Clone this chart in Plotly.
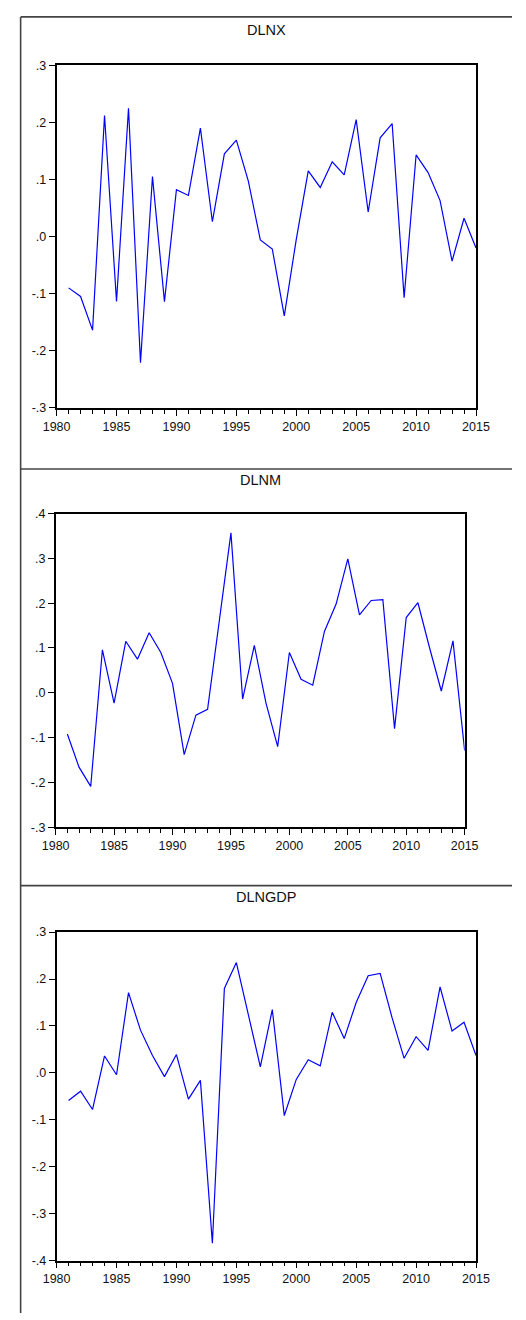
import plotly.graph_objects as go

years = list(range(1981, 2016))

dlnx = [-0.090, -0.105, -0.164, 0.212, -0.114, 0.225, -0.221, 0.105, -0.114, 0.082,
        0.072, 0.190, 0.026, 0.145, 0.169, 0.097, -0.006, -0.022, -0.139, -0.005,
        0.115, 0.086, 0.131, 0.108, 0.205, 0.043, 0.173, 0.198, -0.107, 0.143,
        0.112, 0.063, -0.043, 0.032, -0.020]

dlnm = [-0.092, -0.166, -0.209, 0.096, -0.023, 0.115, 0.075, 0.134, 0.090, 0.021,
        -0.138, -0.050, -0.037, 0.160, 0.357, -0.014, 0.106, -0.023, -0.120, 0.090,
        0.030, 0.017, 0.137, 0.198, 0.299, 0.174, 0.206, 0.208, -0.080, 0.168,
        0.201, 0.100, 0.004, 0.116, -0.129]

dlngdp = [-0.059, -0.039, -0.078, 0.036, -0.004, 0.171, 0.091, 0.037, -0.008, 0.039,
          -0.056, -0.016, -0.363, 0.180, 0.235, 0.121, 0.013, 0.135, -0.091, -0.014,
          0.028, 0.015, 0.129, 0.073, 0.150, 0.207, 0.212, 0.117, 0.031, 0.077,
          0.048, 0.183, 0.089, 0.108, 0.037]

titles = ["DLNX", "DLNM", "DLNGDP"]
series = [dlnx, dlnm, dlngdp]
yranges = [(-0.3, 0.3), (-0.3, 0.4), (-0.4, 0.3)]
ytickvals = [[-0.3, -0.2, -0.1, 0.0, 0.1, 0.2, 0.3],
             [-0.3, -0.2, -0.1, 0.0, 0.1, 0.2, 0.3, 0.4],
             [-0.4, -0.3, -0.2, -0.1, 0.0, 0.1, 0.2, 0.3]]
xtickvals = [1980, 1985, 1990, 1995, 2000, 2005, 2010, 2015]

W, H = 526, 1320
# plot area pixel boxes: (left, right, top, bottom)
boxes = [(45, 488, 59, 405), (44, 476, 512, 829), (45, 488, 935, 1267)]
title_y = [23, 478, 900]

def fmt(v):
    s = "%.1f" % v
    return s.replace("0.", ".")

fig = go.Figure()
font = dict(family="Liberation Sans, Arial, sans-serif", size=12.5, color="#111111")

for i in range(3):
    l, r, t, b = boxes[i]
    xa = "xaxis" if i == 0 else "xaxis%d" % (i + 1)
    ya = "yaxis" if i == 0 else "yaxis%d" % (i + 1)
    xref = "x" if i == 0 else "x%d" % (i + 1)
    yref = "y" if i == 0 else "y%d" % (i + 1)
    fig.add_trace(go.Scatter(x=years, y=series[i], mode="lines",
                             line=dict(color="#0000ff", width=1.2),
                             xaxis=xref, yaxis=yref, showlegend=False))
    fig.update_layout(**{
        xa: dict(domain=[l / W, r / W], range=[1980, 2015], anchor=yref,
                 tickvals=xtickvals, ticktext=[str(v) for v in xtickvals],
                 ticks="outside", ticklen=6, tickwidth=1, tickcolor="#000",
                 minor=dict(tickvals=list(range(1980, 2016)), ticks="outside",
                            ticklen=4, tickwidth=1, tickcolor="#000"),
                 showline=True, linecolor="#000", linewidth=1.6, mirror=True,
                 showgrid=False, zeroline=False, tickfont=font),
        ya: dict(domain=[1 - b / H, 1 - t / H], range=list(yranges[i]), anchor=xref,
                 tickvals=ytickvals[i], ticktext=[fmt(v) for v in ytickvals[i]],
                 ticks="outside", ticklen=6, tickwidth=1, tickcolor="#000",
                 showline=True, linecolor="#000", linewidth=1.6, mirror=True,
                 showgrid=False, zeroline=False, tickfont=font),
    })
    fig.add_annotation(text=titles[i], xref="paper", yref="paper",
                       x=(l + r) / 2 / W, y=1 - title_y[i] / H,
                       xanchor="center", yanchor="middle", showarrow=False,
                       font=dict(family="Liberation Sans, Arial, sans-serif", size=14.5, color="#111111"))

# outer frame lines
frame = dict(color="#444444", width=1.6)
fig.add_shape(type="line", xref="paper", yref="paper", x0=7 / W, x1=7 / W, y0=0, y1=1 - 10 / H, line=frame)
for yy in [10, 467, 888]:
    fig.add_shape(type="line", xref="paper", yref="paper", x0=7 / W, x1=1, y0=1 - yy / H, y1=1 - yy / H, line=frame)

fig.update_layout(width=W, height=H, autosize=False,
                  margin=dict(l=0, r=0, t=0, b=0),
                  paper_bgcolor="white", plot_bgcolor="white")

css_fix = ("var s=document.createElement('style');"
           "s.textContent='html,body{margin:0 !important;padding:0 !important;overflow:hidden;}';"
           "document.head.appendChild(s);"
           "document.body.style.margin='0px';")

fig.write_html("out.html", post_script=css_fix,
               config={"displayModeBar": False, "responsive": False})
